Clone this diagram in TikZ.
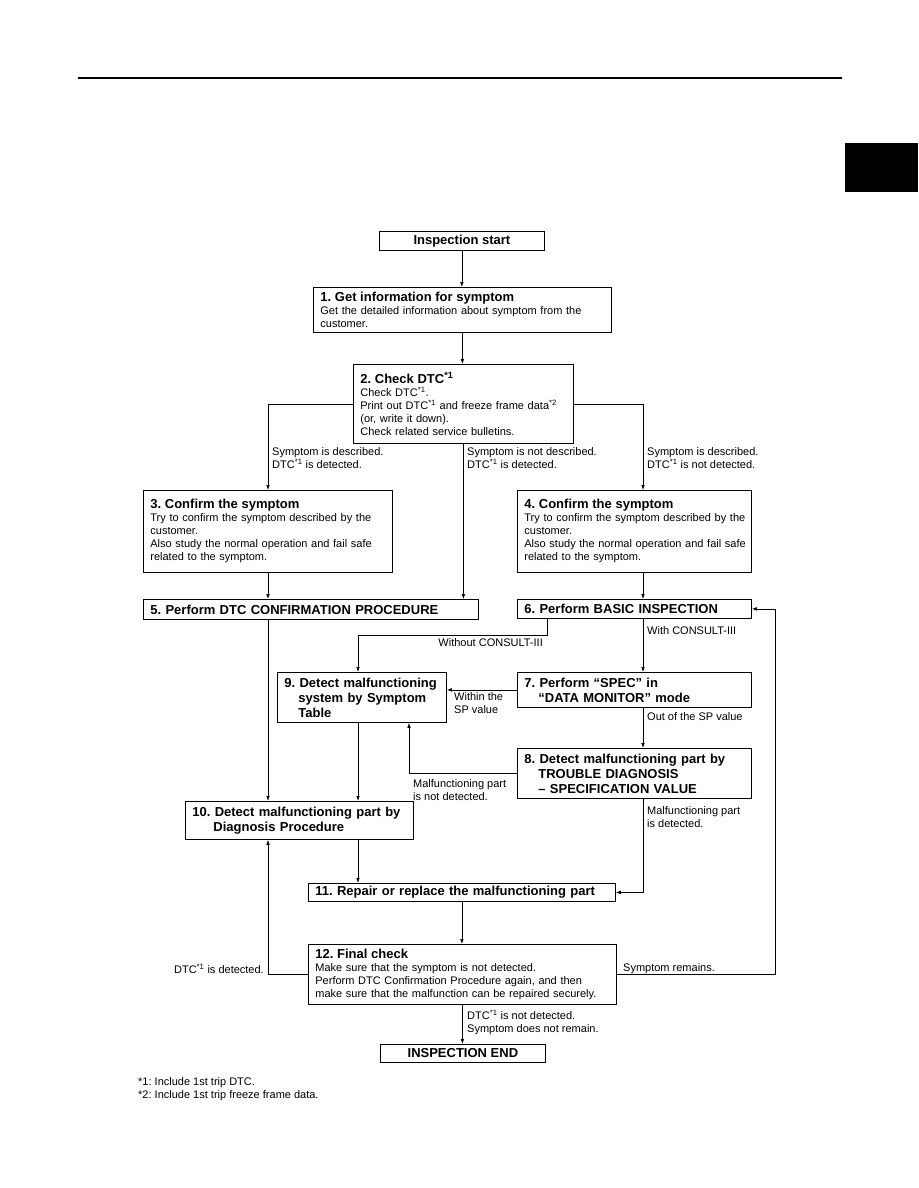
\documentclass[tikz,border=0pt]{standalone}
\usepackage{fontspec}
\setmainfont{Liberation Sans}
\usetikzlibrary{arrows.meta}
\frenchspacing
\newcommand\ttl{\fontsize{13}{15}\selectfont\bfseries}
\newcommand\bdy{\fontsize{11}{13}\selectfont}
\newcommand\lblf{\fontsize{11}{13.5}\selectfont}
\newcommand\dtcs{\textsuperscript{*1}}
\newcommand\ind{\hspace*{14pt}}
\begin{document}
\begin{tikzpicture}[x=1pt,y=-1pt,
  bx/.style={draw, line width=0.8pt, anchor=north west, inner xsep=7pt, inner ysep=0pt, align=left, font=\bdy},
  cbx/.style={draw, line width=0.8pt, anchor=north west, inner sep=0pt, align=center, font=\ttl},
  arr/.style={-{Latex[length=5pt,width=3.6pt]}, line width=0.7pt},
  lbl/.style={font=\lblf, align=left, inner sep=0pt, anchor=north west},
  lblr/.style={font=\lblf, align=right, inner sep=0pt, anchor=north east}]
\useasboundingbox (0,0) rectangle (918,1188);
% page decorations
\draw[line width=2.5pt] (78,78) -- (842,78);
\fill (845,143) rectangle (918,192);
% boxes
\node[cbx, minimum width=165pt, minimum height=19pt] (start) at (379,231) {Inspection start};
\node[bx, minimum width=298pt, minimum height=45pt, text width=284pt] (b1) at (313,287)
  {{\ttl 1. Get information for symptom}\\\mbox{Get the detailed information about symptom from the}\\customer.};
\node[bx, minimum width=220pt, minimum height=79pt, text width=206pt] (b2) at (353,364)
  {{\ttl 2. Check DTC\dtcs}\\Check DTC\dtcs.\\\mbox{Print out DTC\dtcs{} and freeze frame data\textsuperscript{*2}}\\(or, write it down).\\Check related service bulletins.};
\node[bx, minimum width=249pt, minimum height=82pt, text width=235pt] (b3) at (143,490)
  {{\ttl 3. Confirm the symptom}\\\mbox{Try to confirm the symptom described by the}\\customer.\\\mbox{Also study the normal operation and fail safe}\\related to the symptom.};
\node[bx, minimum width=234pt, minimum height=82pt, text width=220pt] (b4) at (517,490)
  {{\ttl 4. Confirm the symptom}\\\mbox{Try to confirm the symptom described by the}\\customer.\\\mbox{Also study the normal operation and fail safe}\\related to the symptom.};
\node[bx, font=\ttl, minimum width=335pt, minimum height=20pt, text width=321pt] (b5) at (143,599)
  {5. Perform DTC CONFIRMATION PROCEDURE};
\node[bx, font=\ttl, minimum width=234pt, minimum height=19pt, text width=220pt] (b6) at (517,599)
  {6. Perform BASIC INSPECTION};
\node[bx, font=\ttl, minimum width=234pt, minimum height=35pt, text width=220pt] (b7) at (517,672)
  {7. Perform “SPEC” in\\\ind“DATA MONITOR” mode};
\node[bx, font=\ttl, minimum width=234pt, minimum height=50pt, text width=220pt] (b8) at (517,748)
  {\mbox{8. Detect malfunctioning part by}\\\ind TROUBLE DIAGNOSIS\\\ind – SPECIFICATION VALUE};
\node[bx, font=\ttl, minimum width=169pt, minimum height=50pt, text width=155pt] (b9) at (277,672)
  {9. Detect malfunctioning\\\ind system by Symptom\\\ind Table};
\node[bx, font=\ttl, minimum width=228pt, minimum height=38pt, text width=214pt] (b10) at (185,801)
  {\mbox{10. Detect malfunctioning part by}\\\hspace*{21pt}Diagnosis Procedure};
\node[bx, font=\ttl, minimum width=307pt, minimum height=18pt, text width=293pt] (b11) at (308,883)
  {11. Repair or replace the malfunctioning part};
\node[bx, minimum width=308pt, minimum height=60pt, text width=294pt] (b12) at (308,944)
  {{\ttl 12. Final check}\\Make sure that the symptom is not detected.\\\mbox{Perform DTC Confirmation Procedure again, and then}\\\mbox{make sure that the malfunction can be repaired securely.}};
\node[cbx, minimum width=165pt, minimum height=18pt] (end) at (380,1044) {INSPECTION END};
% helper coordinates
\coordinate (cL) at (268,0);
\coordinate (cR) at (643,0);
\coordinate (c9) at (358,0);
\coordinate (c6) at (547,0);
\coordinate (cY) at (0,635);
\coordinate (c8) at (409,0);
\coordinate (cRR) at (775,0);
% connectors
\draw[arr] (start.south) -- (start.south |- b1.north);
\draw[arr] (b1.south) -- (b1.south |- b2.north);
\draw[arr] (b2.west) -| (cL |- b3.north);
\draw[arr] (b2.east) -| (cR |- b4.north);
\draw[arr] (b2.south) -- (b2.south |- b5.north);
\draw[arr] (cL |- b3.south) -- (cL |- b5.north);
\draw[arr] (cR |- b4.south) -- (cR |- b6.north);
\draw[arr] (cL |- b5.south) -- (cL |- b10.north);
\draw[arr] (c6 |- b6.south) -- (c6 |- cY) -| (c9 |- b9.north);
\draw[arr] (cR |- b6.south) -- (cR |- b7.north);
\draw[arr] (b7.west) -- (b9.east |- b7.west);
\draw[arr] (cR |- b7.south) -- (cR |- b8.north);
\draw[arr] (b8.west) -| (c8 |- b9.south);
\draw[arr] (c9 |- b9.south) -- (c9 |- b10.north);
\draw[arr] (cR |- b8.south) |- (b11.east);
\draw[arr] (c9 |- b10.south) -- (c9 |- b11.north);
\draw[arr] (b11.south) -- (b11.south |- b12.north);
\draw[arr] (b12.west) -| (cL |- b10.south);
\draw[arr] (b12.east) -| (cRR |- b6.east) -- (b6.east);
\draw[arr] (b12.south) -- (b12.south |- end.north);
% labels
\node[lbl] (l1) at (272,447) {Symptom is described.\\DTC\dtcs{} is detected.};
\node[lbl] (l2) at (467,447) {Symptom is not described.\\DTC\dtcs{} is detected.};
\node[lbl] (l3) at (647,447) {Symptom is described.\\DTC\dtcs{} is not detected.};
\node[lblr] (l4) at (543,638) {Without CONSULT-III};
\node[lbl] (l5) at (647,626) {With CONSULT-III};
\node[lbl] (l6) at (454,692) {Within the\\SP value};
\node[lbl] (l7) at (647,712) {Out of the SP value};
\node[lbl] (l8) at (413,779) {Malfunctioning part\\is not detected.};
\node[lbl] (l9) at (647,806) {Malfunctioning part\\is detected.};
\node[lblr] (l10) at (264,964) {DTC\dtcs{} is detected.};
\node[lbl] (l11) at (623,963) {Symptom remains.};
\node[lbl] (l12) at (467,1010) {DTC\dtcs{} is not detected.\\Symptom does not remain.};
\node[lbl] (fn) at (138,1077) {*1: Include 1st trip DTC.\\*2: Include 1st trip freeze frame data.};
\end{tikzpicture}
\end{document}
